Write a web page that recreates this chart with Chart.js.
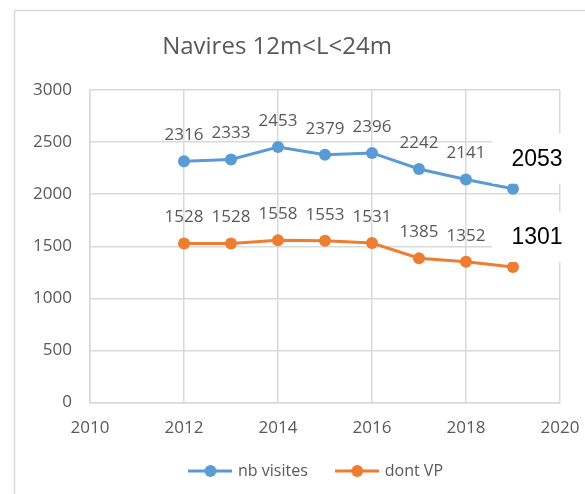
<!DOCTYPE html>
<html>
<head>
<meta charset="utf-8">
<script src="https://cdn.jsdelivr.net/npm/chart.js@4"></script>
<style>
  html, body { margin: 0; padding: 0; background: #fff; }
  #wrap { position: relative; width: 585px; height: 494px; }
</style>
</head>
<body>
<div id="wrap"><canvas id="chart" width="585" height="494"></canvas></div>
<script>
// Values
const years = [2012, 2013, 2014, 2015, 2016, 2017, 2018, 2019];
const visites = [2316, 2333, 2453, 2379, 2396, 2242, 2141, 2053];
const dontVP = [1528, 1528, 1558, 1553, 1531, 1385, 1352, 1301];
const seriesNames = ['nb visites', 'dont VP'];
const chartTitle = 'Navires 12m<L<24m';

const BLUE = '#5B9BD5';
const ORANGE = '#ED7D31';
const GREY = '#595959';
const FONT = "'Open Sans', sans-serif";

// legend marker: short line with a dot in the middle
function legendMarker(color) {
    const c = document.createElement('canvas');
    c.width = 44; c.height = 14;
    const g = c.getContext('2d');
    g.strokeStyle = color; g.lineWidth = 3;
    g.beginPath(); g.moveTo(0, 7); g.lineTo(44, 7); g.stroke();
    g.fillStyle = color;
    g.beginPath(); g.arc(22, 7, 6, 0, Math.PI * 2); g.fill();
    return c;
}

// frame + title drawn on the canvas
const framePlugin = {
    id: 'frame',
    afterLayout(chart) {
        // legend sits a bit right of the canvas centre and higher in the original
        const lg = chart.legend;
        lg.left += 30; lg.right += 30;
        lg.top -= 20; lg.bottom -= 20;
    },
    beforeDraw(chart) {
        const ctx = chart.ctx;
        ctx.save();
        ctx.strokeStyle = '#d9d9d9';
        ctx.lineWidth = 1.5;
        ctx.strokeRect(14.5, 10.5, 640, 520);
        ctx.fillStyle = GREY;
        ctx.font = "24px " + FONT;
        ctx.textAlign = 'center';
        ctx.textBaseline = 'middle';
        ctx.fillText(chartTitle, 277, 47);
        ctx.restore();
    }
};

// value labels above the points, last ones pasted bigger in black
const labelPlugin = {
    id: 'valueLabels',
    afterDatasetsDraw(chart) {
        const ctx = chart.ctx;
        ctx.save();
        chart.data.datasets.forEach((ds, i) => {
            const meta = chart.getDatasetMeta(i);
            meta.data.forEach((pt, j) => {
                const v = ds.data[j].y;
                if (j === meta.data.length - 1) {
                    ctx.fillStyle = '#fff';
                    ctx.fillRect(pt.x - 21, pt.y - 55, 95, 50);
                    ctx.fillStyle = '#000';
                    ctx.font = "23px 'Liberation Sans', Arial, sans-serif";
                    ctx.textAlign = 'center';
                    ctx.textBaseline = 'middle';
                    ctx.fillText(String(v), pt.x + 24, pt.y - 29);
                } else {
                    ctx.fillStyle = GREY;
                    ctx.font = "17px " + FONT;
                    ctx.textAlign = 'center';
                    ctx.textBaseline = 'middle';
                    ctx.fillText(String(v), pt.x, pt.y - 26);
                }
            });
        });
        ctx.restore();
    }
};

const ctx = document.getElementById('chart').getContext('2d');
const chart = new Chart(ctx, {
    type: 'line',
    data: {
        datasets: [{
            label: seriesNames[0],
            data: years.map((y, i) => ({ x: y, y: visites[i] })),
            borderColor: BLUE,
            backgroundColor: BLUE,
            borderWidth: 3,
            pointRadius: 6,
            pointStyle: 'circle',
            pointBackgroundColor: BLUE,
            pointBorderWidth: 0
        }, {
            label: seriesNames[1],
            data: years.map((y, i) => ({ x: y, y: dontVP[i] })),
            borderColor: ORANGE,
            backgroundColor: ORANGE,
            borderWidth: 3,
            pointRadius: 6,
            pointStyle: 'circle',
            pointBackgroundColor: ORANGE,
            pointBorderWidth: 0
        }]
    },
    options: {
        responsive: false,
        animation: false,
        layout: { padding: { left: 14, right: 25, top: 90, bottom: -15 } },
        scales: {
            x: {
                type: 'linear',
                min: 2010,
                max: 2020,
                ticks: { stepSize: 2, color: GREY, font: { family: FONT, size: 17 }, padding: 15,
                         callback: v => String(v) },
                grid: { color: '#d9d9d9', lineWidth: 1.5, drawTicks: false },
                border: { color: '#d9d9d9', width: 1.5 },
                afterFit(scale) { scale.paddingRight = 0; scale.paddingLeft = 0; }
            },
            y: {
                min: 0,
                max: 3000,
                ticks: { stepSize: 500, color: GREY, font: { family: FONT, size: 17 }, padding: 18,
                         callback: v => String(v) },
                grid: { color: '#d9d9d9', lineWidth: 1.5, drawTicks: false },
                border: { color: '#d9d9d9', width: 1.5 },
                afterFit(scale) { scale.width = 76; }
            }
        },
        plugins: {
            title: { display: false },
            tooltip: { enabled: false },
            legend: {
                position: 'bottom',
                labels: {
                    color: GREY,
                    font: { family: FONT, size: 16 },
                    usePointStyle: true,
                    pointStyleWidth: 39,
                    boxHeight: 14,
                    padding: 30,
                    generateLabels(chart) {
                        return chart.data.datasets.map((ds, i) => ({
                            text: ds.label,
                            pointStyle: legendMarker(ds.borderColor),
                            fillStyle: ds.borderColor,
                            strokeStyle: ds.borderColor,
                            lineWidth: 0,
                            fontColor: GREY,
                            datasetIndex: i
                        }));
                    }
                }
            }
        }
    },
    plugins: [framePlugin, labelPlugin]
});
</script>
</body>
</html>
